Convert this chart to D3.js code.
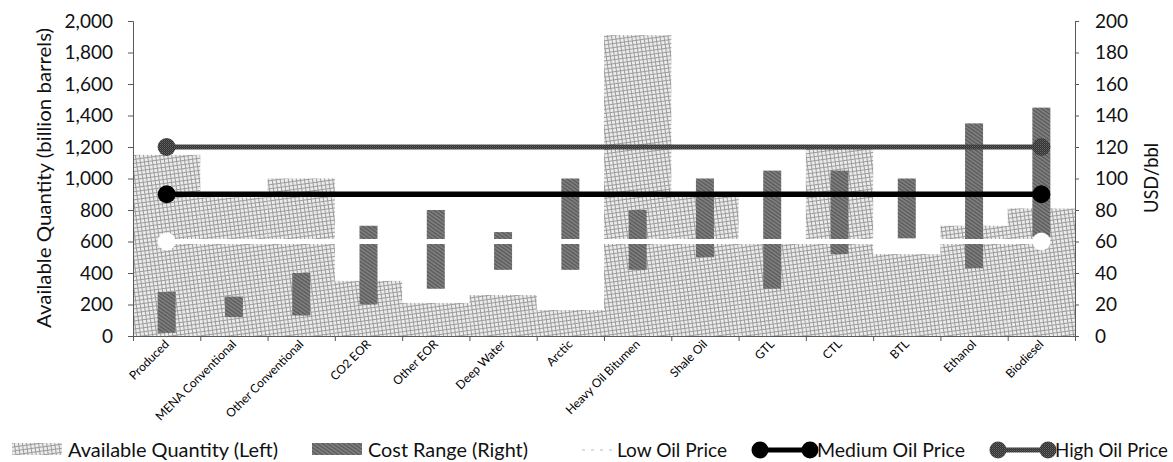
<!DOCTYPE html>
<html>
<head>
<meta charset="utf-8">
<script src="https://cdn.jsdelivr.net/npm/d3@7"></script>
<style>
  html, body { margin: 0; padding: 0; background: #fff; }
  svg { display: block; font-family: Lato, "Open Sans", "Liberation Sans", sans-serif; }
</style>
</head>
<body>
<svg id="chart" width="1173" height="462"></svg>
<script>
// Oil supply categories
const categories = ["Produced", "MENA Conventional", "Other Conventional", "CO2 EOR", "Other EOR",
  "Deep Water", "Arctic", "Heavy Oil Bitumen", "Shale Oil", "GTL", "CTL", "BTL", "Ethanol", "Biodiesel"];

// Available quantity, billion barrels (left axis)
const quantity = [1150, 880, 1000, 350, 210, 260, 165, 1910, 910, 600, 1200, 520, 700, 810];

// Production cost range, USD/bbl (right axis)
const costLow  = [2, 12, 13, 20, 30, 42, 42, 42, 50, 30, 52, 62, 43, 63];
const costHigh = [28, 25, 40, 70, 80, 66, 100, 80, 100, 105, 105, 100, 135, 145];

// Oil price scenarios, USD/bbl
const lowPrice    = [60, 60, 60, 60, 60, 60, 60, 60, 60, 60, 60, 60, 60, 60];
const mediumPrice = [90, 90, 90, 90, 90, 90, 90, 90, 90, 90, 90, 90, 90, 90];
const highPrice   = [120, 120, 120, 120, 120, 120, 120, 120, 120, 120, 120, 120, 120, 120];

// Axis ticks
const leftTicks  = [0, 200, 400, 600, 800, 1000, 1200, 1400, 1600, 1800, 2000];
const rightTicks = [0, 20, 40, 60, 80, 100, 120, 140, 160, 180, 200];

const svg = d3.select("#chart");
const plot = { left: 133, right: 1075, top: 21, bottom: 336 };

const x = d3.scaleBand().domain(categories).range([plot.left, plot.right]).padding(0);
const xEdge = d3.scaleLinear().domain([0, categories.length]).range([plot.left, plot.right]);
const yL = d3.scaleLinear().domain([0, 2000]).range([plot.bottom, plot.top]);
const yR = d3.scaleLinear().domain([0, 200]).range([plot.bottom, plot.top]);

// Textures
const defs = svg.append("defs");
const hatch = defs.append("pattern").attr("id", "qtyHatch")
  .attr("patternUnits", "userSpaceOnUse").attr("width", 4).attr("height", 4)
  .attr("patternTransform", "rotate(-8)");
hatch.append("rect").attr("width", 4).attr("height", 4).attr("fill", "#ececec");
hatch.append("path").attr("d", "M0,0.5H4M0.5,0V4").attr("stroke", "#9c9c9c").attr("stroke-width", 1);

const costTex = defs.append("pattern").attr("id", "costTex")
  .attr("patternUnits", "userSpaceOnUse").attr("width", 3).attr("height", 3)
  .attr("patternTransform", "rotate(35)");
costTex.append("rect").attr("width", 3).attr("height", 3).attr("fill", "#7c7c7c");
costTex.append("path").attr("d", "M0,1.5H3").attr("stroke", "#555").attr("stroke-width", 1);

const highTex = defs.append("pattern").attr("id", "highTex")
  .attr("patternUnits", "userSpaceOnUse").attr("width", 2).attr("height", 2);
highTex.append("rect").attr("width", 2).attr("height", 2).attr("fill", "#333");
highTex.append("rect").attr("width", 1).attr("height", 1).attr("fill", "#666");
highTex.append("rect").attr("x", 1).attr("y", 1).attr("width", 1).attr("height", 1).attr("fill", "#4e4e4e");

// Available quantity bars (full band width)
svg.append("g").selectAll("rect").data(categories).join("rect")
  .attr("x", d => x(d))
  .attr("width", x.bandwidth())
  .attr("y", (d, i) => yL(quantity[i]))
  .attr("height", (d, i) => yL(0) - yL(quantity[i]))
  .attr("fill", "url(#qtyHatch)");

// Cost range bars
const costW = 18;
svg.append("g").selectAll("rect").data(categories).join("rect")
  .attr("x", d => x(d) + (x.bandwidth() - costW) / 2)
  .attr("width", costW)
  .attr("y", (d, i) => yR(costHigh[i]))
  .attr("height", (d, i) => yR(costLow[i]) - yR(costHigh[i]))
  .attr("fill", "url(#costTex)");

// Price scenario lines
const cx = d => x(d) + x.bandwidth() / 2;
function priceLine(values, stroke, width) {
  const line = d3.line().x((d, i) => cx(categories[i])).y(d => yR(d));
  svg.append("path").datum(values).attr("d", line)
    .attr("fill", "none").attr("stroke", stroke).attr("stroke-width", width);
  const ends = [0, values.length - 1];
  svg.append("g").selectAll("circle").data(ends).join("circle")
    .attr("cx", i => cx(categories[i])).attr("cy", i => yR(values[i]))
    .attr("r", 9).attr("fill", stroke);
}
priceLine(lowPrice, "#ffffff", 5);
priceLine(mediumPrice, "#000000", 5.5);
priceLine(highPrice, "url(#highTex)", 5);

// Axes
const axisColor = "#595959";
const gL = svg.append("g").attr("transform", `translate(${plot.left},0)`)
  .call(d3.axisLeft(yL).tickValues(leftTicks).tickFormat(d3.format(",")).tickSizeOuter(0).tickSize(5).tickPadding(15));
const gR = svg.append("g").attr("transform", `translate(${plot.right},0)`)
  .call(d3.axisRight(yR).tickValues(rightTicks).tickSizeOuter(0).tickSize(4).tickPadding(16));
const gB = svg.append("g").attr("transform", `translate(0,${plot.bottom})`)
  .call(d3.axisBottom(xEdge).tickValues(d3.range(categories.length + 1)).tickFormat("").tickSizeOuter(0).tickSize(5));
[gL, gR, gB].forEach(g => {
  g.select(".domain").attr("stroke", axisColor);
  g.selectAll(".tick line").attr("stroke", axisColor);
  g.selectAll(".tick text").attr("fill", "#111").style("font-size", "19px")
    .style("font-family", "Lato, 'Open Sans', sans-serif");
});

// Category labels
svg.append("g").selectAll("text").data(categories).join("text")
  .attr("transform", d => `translate(${cx(d) + 3},${plot.bottom + 9}) rotate(-45)`)
  .attr("text-anchor", "end")
  .attr("font-size", 12)
  .attr("fill", "#000")
  .text(d => d);

// Axis titles
svg.append("text")
  .attr("transform", "translate(51,178) rotate(-90)")
  .attr("text-anchor", "middle").attr("font-size", 19).attr("fill", "#111")
  .attr("textLength", 300).attr("lengthAdjust", "spacingAndGlyphs")
  .text("Available Quantity (billion barrels)");
svg.append("text")
  .attr("transform", "translate(1158,178) rotate(-90)")
  .attr("text-anchor", "middle").attr("font-size", 19).attr("fill", "#111")
  .attr("textLength", 70).attr("lengthAdjust", "spacingAndGlyphs")
  .text("USD/bbl");

// Legend
const lg = svg.append("g");
const ly = 450, lbase = 457;
lg.append("rect").attr("x", 12).attr("y", 443).attr("width", 50).attr("height", 12).attr("fill", "url(#qtyHatch)");
lg.append("rect").attr("x", 312).attr("y", 443).attr("width", 50).attr("height", 12).attr("fill", "url(#costTex)");
lg.append("line").attr("x1", 582).attr("x2", 613).attr("y1", ly).attr("y2", ly)
  .attr("stroke", "#dddddd").attr("stroke-width", 2).attr("stroke-dasharray", "3,6");
lg.append("line").attr("x1", 760).attr("x2", 810).attr("y1", ly).attr("y2", ly).attr("stroke", "#000").attr("stroke-width", 5);
lg.selectAll("circle.m").data([760, 810]).join("circle").attr("class", "m")
  .attr("cx", d => d).attr("cy", ly).attr("r", 8.5).attr("fill", "#000");
lg.append("line").attr("x1", 998).attr("x2", 1048).attr("y1", ly).attr("y2", ly).attr("stroke", "url(#highTex)").attr("stroke-width", 5);
lg.selectAll("circle.h").data([998, 1048]).join("circle").attr("class", "h")
  .attr("cx", d => d).attr("cy", ly).attr("r", 8.5).attr("fill", "url(#highTex)");

const legendItems = [
  { label: "Available Quantity (Left)", x: 68, w: 210 },
  { label: "Cost Range (Right)", x: 368, w: 160 },
  { label: "Low Oil Price", x: 617, w: 110 },
  { label: "Medium Oil Price", x: 817, w: 148 },
  { label: "High Oil Price", x: 1055, w: 113 }
];
lg.selectAll("text").data(legendItems).join("text")
  .attr("x", d => d.x).attr("y", lbase)
  .attr("font-size", 19).attr("fill", "#111")
  .attr("textLength", d => d.w).attr("lengthAdjust", "spacingAndGlyphs")
  .text(d => d.label);
</script>
</body>
</html>
